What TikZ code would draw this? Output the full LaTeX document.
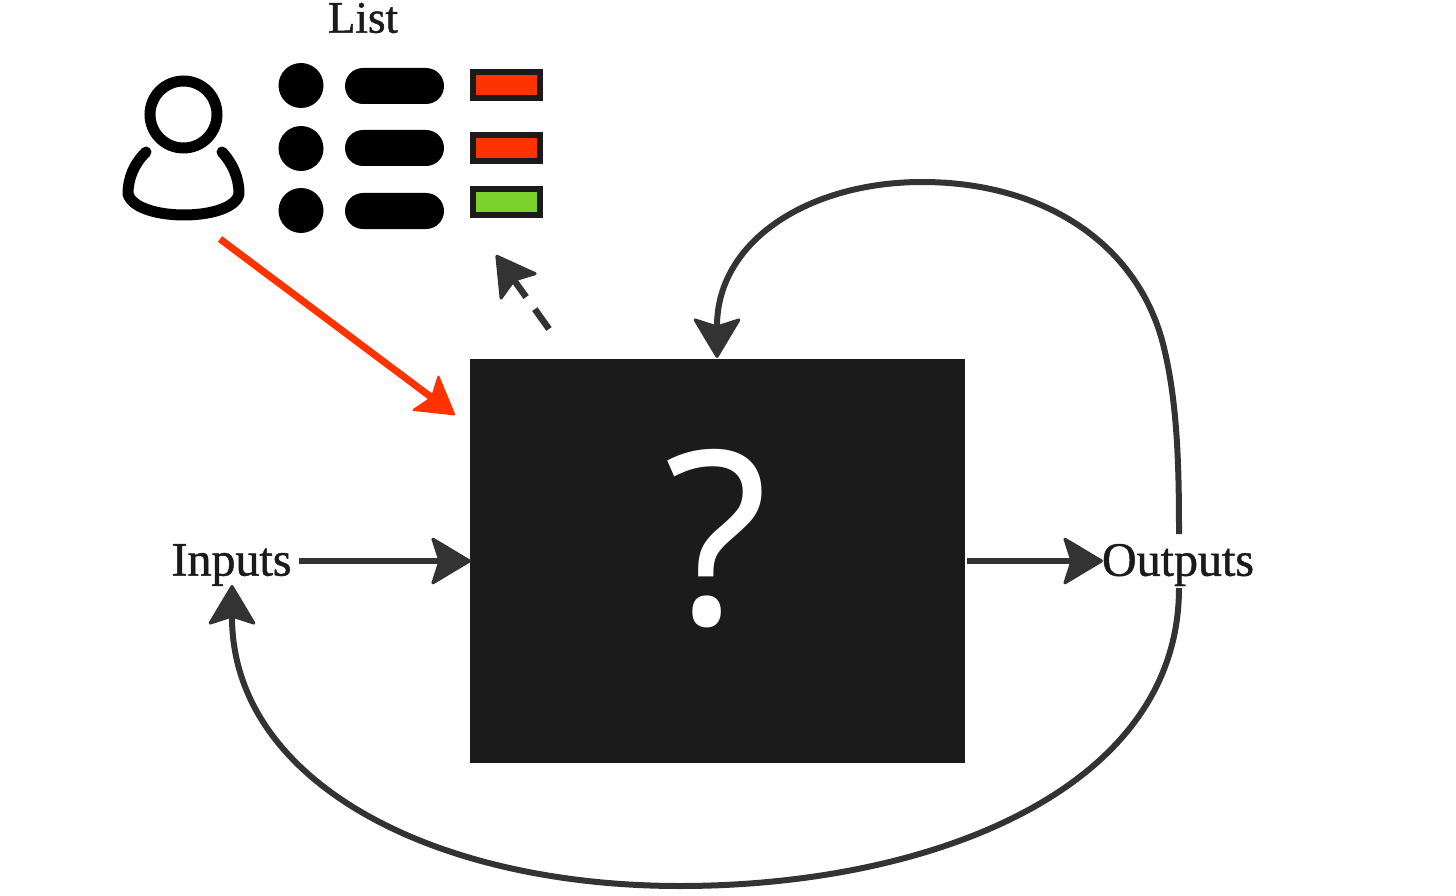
\documentclass[tikz,border=0pt]{standalone}
\usepackage{fontspec}
\setmainfont[BoldFont={Liberation Serif},BoldFeatures={FakeBold=1}]{Liberation Serif}
\newfontfamily\qfont{Open Sans}
\usetikzlibrary{arrows.meta,calc}
\definecolor{ink}{HTML}{333333}
\definecolor{boxk}{HTML}{1B1B1B}
\definecolor{redm}{HTML}{FF3300}
\definecolor{greenm}{HTML}{7BD22C}
\tikzset{
  x=1pt,y=-1pt,
  conn/.style={draw=ink,line width=6pt,-{Stealth[length=42pt,width=50pt,inset=8pt,round,line width=3pt]}},
  redconn/.style={draw=redm,line width=7pt,-{Stealth[length=39pt,width=46pt,inset=8pt,round,line width=2pt]}},
  dashconn/.style={draw=ink,line width=6.5pt,-{Stealth[length=42pt,width=48pt,inset=8pt,round,line width=3pt]}},
  lbl/.style={inner sep=0pt,font=\bfseries\fontsize{48}{50}\selectfont,text=boxk},
  dot/.style={circle,fill=black,minimum size=45pt,inner sep=0pt},
  pill/.style={rounded corners=18pt,fill=black,minimum width=99pt,minimum height=36pt,inner sep=0pt},
  flag/.style={draw=boxk,line width=6pt,minimum width=67pt,minimum height=26pt,inner sep=0pt},
  userline/.style={draw=black,line width=11pt,line cap=round,line join=round},
}
\begin{document}
\begin{tikzpicture}
\useasboundingbox (0,0) rectangle (1456,896);
\node[fill=boxk,minimum width=495pt,minimum height=404pt,inner sep=0pt] (box) at (717.5,560.5) {};
\node[text=white,inner sep=0pt,font=\qfont\fontsize{242}{242}\selectfont] (q) at (716,539) {?};
\node[lbl] (inputs) at (231.5,565) {Inputs};
\node[lbl] (outputs) at (1178,565) {Outputs};
\node[lbl,font=\bfseries\fontsize{45}{48}\selectfont] (list) at (363,18) {List};
% user icon
\node[draw=black,line width=11pt,circle,minimum size=67pt,inner sep=0pt] (head) at (183.5,114.5) {};
\draw[userline] (146,152) .. controls (134,164) and (128,178) .. (128,194) .. controls (132,208) and (158,215) .. (184,215) .. controls (210,215) and (236,208) .. (239,194) .. controls (239,178) and (233,164) .. (222,152);
% list
\node[dot] (d1) at (301,85.5) {};
\node[dot] (d2) at (301,148.5) {};
\node[dot] (d3) at (301,210.5) {};
\node[pill] (p1) at (394.5,86) {};
\node[pill] (p2) at (394.5,148) {};
\node[pill] (p3) at (394.5,211) {};
\node[flag,fill=redm] (f1) at (506,85) {};
\node[flag,fill=redm] (f2) at (506,148.5) {};
\node[flag,fill=greenm] (f3) at (506,202) {};
% connector anchors
\coordinate (rs) at (220,239);
\coordinate (re) at (455,415);
\coordinate (ds) at (549,329);
\coordinate (de) at (496,255);
\coordinate (is) at (299,561);
\coordinate (os) at (967,561);
\coordinate (oup) at (1179,534);
\coordinate (odn) at (1179,588);
\coordinate (boxtop) at (717,358);
\coordinate (inb) at (232,585);
\coordinate (boxl) at (471,561);
\coordinate (outl) at (1103,561);
\draw[redconn] (rs) -- (re);
\draw[dashconn] (ds) -- (de);
\draw[draw=white,line width=9pt] ($(ds)!0.27!(de)$) -- ($(ds)!0.43!(de)$);
\draw[conn] (is) -- (boxl);
\draw[conn] (os) -- (outl);
\draw[conn] (oup) .. controls (1179,470) and (1178,400) .. (1162,340) .. controls (1134,240) and (1040,182) .. (922,182) .. controls (810,182) and (717,240) .. (boxtop);
\draw[conn] (odn) .. controls (1179,790) and (930,886) .. (680,886) .. controls (430,886) and (232,780) .. (inb);
\end{tikzpicture}
\end{document}
